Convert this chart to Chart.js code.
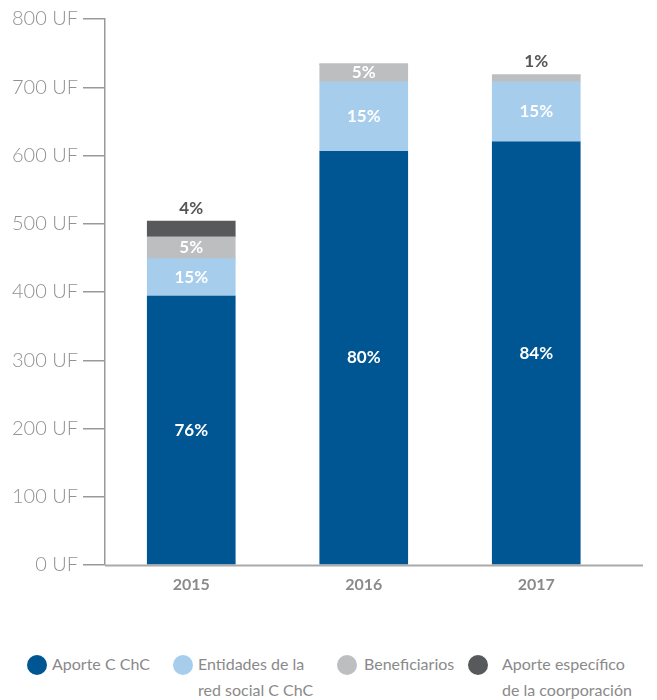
<!DOCTYPE html>
<html>
<head>
    <meta charset="utf-8">
    <title>Aportes por año</title>
    <script src="https://cdn.jsdelivr.net/npm/chart.js"></script>
    <style>
        body { margin: 0; background: #fff; font-family: Lato, "Noto Sans", sans-serif; }
        #wrap { position: relative; width: 657px; height: 700px; }
        #legend .dot { position: absolute; top: 655px; width: 20px; height: 20px; border-radius: 50%; }
        #legend .txt { position: absolute; top: 651px; color: #8a8a8a; font-size: 16px; line-height: 26px; white-space: nowrap; }
    </style>
</head>
<body>
<div id="wrap">
    <canvas id="myChart" width="657" height="615"></canvas>
    <div id="legend"></div>
</div>
<script>
    // datos (UF)
    var years = ['2015', '2016', '2017'];
    var aporteCChC = [394, 606, 620];
    var entidades = [55, 102, 88];
    var beneficiarios = [32, 26, 10];
    var aporteEspecifico = [23, 0, 0];

    // etiquetas de porcentaje
    var pctAporte = ['76%', '80%', '84%'];
    var pctEntidades = ['15%', '15%', '15%'];
    var pctBeneficiarios = ['5%', '5%', '1%'];
    var pctEspecifico = ['4%', '', ''];

    var yTicks = [0, 100, 200, 300, 400, 500, 600, 700, 800];

    var series = [
        { label: 'Aporte C ChC', data: aporteCChC, pct: pctAporte, color: '#005693', dotX: 27, textX: 52 },
        { label: 'Entidades de la\nred social C ChC', data: entidades, pct: pctEntidades, color: '#a6cdeb', dotX: 173, textX: 198 },
        { label: 'Beneficiarios', data: beneficiarios, pct: pctBeneficiarios, color: '#bdbec0', dotX: 337, textX: 364 },
        { label: 'Aporte específico\nde la coorporación', data: aporteEspecifico, pct: pctEspecifico, color: '#58595b', dotX: 468, textX: 502 }
    ];

    // leyenda en HTML
    var legend = document.getElementById('legend');
    series.forEach(function (s) {
        var d = document.createElement('span');
        d.className = 'dot';
        d.style.left = s.dotX + 'px';
        d.style.background = s.color;
        legend.appendChild(d);
        var t = document.createElement('span');
        t.className = 'txt';
        t.style.left = s.textX + 'px';
        t.innerHTML = s.label.replace('\n', '<br>');
        legend.appendChild(t);
    });

    // porcentajes dentro / encima de las barras
    var pctPlugin = {
        id: 'pct',
        afterDatasetsDraw: function (chart) {
            var ctx = chart.ctx;
            ctx.save();
            ctx.textAlign = 'center';
            ctx.textBaseline = 'middle';
            ctx.font = 'bold 17px Lato, "Noto Sans", sans-serif';
            chart.data.datasets.forEach(function (ds, di) {
                var meta = chart.getDatasetMeta(di);
                meta.data.forEach(function (bar, i) {
                    var txt = series[di].pct[i];
                    if (!txt || !ds.data[i]) return;
                    var p = bar.getProps(['x', 'y', 'base'], true);
                    var h = p.base - p.y;
                    if (h < 17) {
                        ctx.fillStyle = '#555';
                        ctx.fillText(txt, p.x, p.y - 13);
                    } else {
                        ctx.fillStyle = '#fff';
                        ctx.fillText(txt, p.x, (p.y + p.base) / 2);
                    }
                });
            });
            ctx.restore();
        }
    };

    // línea del eje x, más larga que el área de barras
    var xLine = {
        id: 'xLine',
        afterDraw: function (chart) {
            var a = chart.chartArea, ctx = chart.ctx;
            ctx.save();
            ctx.strokeStyle = '#aaaaaa';
            ctx.lineWidth = 2;
            ctx.beginPath();
            ctx.moveTo(a.left, a.bottom + 0.5);
            ctx.lineTo(643, a.bottom + 0.5);
            ctx.stroke();
            ctx.restore();
        }
    };

    var ctx = document.getElementById('myChart').getContext('2d');
    var chart = new Chart(ctx, {
        type: 'bar',
        data: {
            labels: years,
            datasets: series.map(function (s) {
                return { label: s.label, data: s.data, backgroundColor: s.color, borderWidth: 0, barThickness: 88 };
            })
        },
        options: {
            responsive: false,
            animation: false,
            layout: { padding: { top: 19, right: 34.5, left: 0, bottom: 0 } },
            plugins: { legend: { display: false }, tooltip: { enabled: false } },
            scales: {
                x: {
                    stacked: true,
                    grid: { display: false, drawTicks: false },
                    border: { display: false },
                    ticks: { color: '#8a8a8a', padding: 10, font: { family: 'Lato', size: 16, weight: 'bold' } },
                    afterFit: function (scale) { scale.height = 50; }
                },
                y: {
                    stacked: true,
                    min: 0,
                    max: 800,
                    afterBuildTicks: function (scale) {
                        scale.ticks = yTicks.map(function (v) { return { value: v }; });
                    },
                    grid: { drawOnChartArea: false, color: '#999', tickLength: 22, lineWidth: 1.5 },
                    border: { color: '#999', width: 1.5 },
                    ticks: {
                        color: '#929292',
                        padding: 5,
                        font: { family: 'Lato', size: 20, weight: '300' },
                        callback: function (v) { return v + ' UF'; }
                    },
                    afterFit: function (scale) { scale.width = 105; }
                }
            }
        },
        plugins: [pctPlugin, xLine]
    });
</script>
</body>
</html>
